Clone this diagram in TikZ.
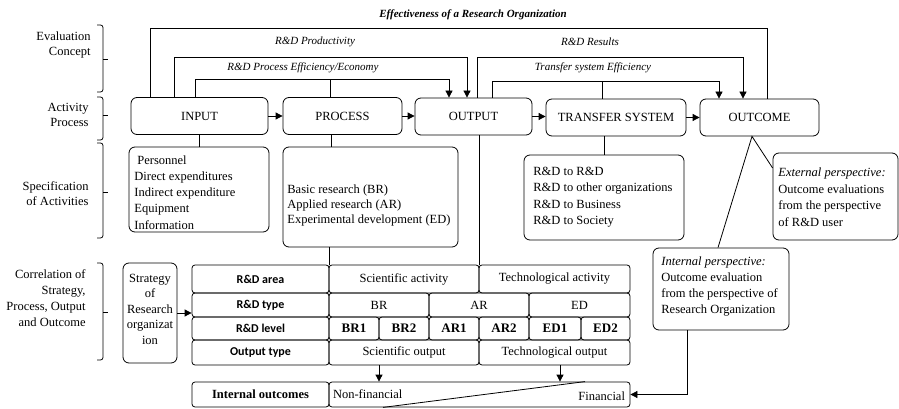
\documentclass[tikz,border=0pt]{standalone}
\usepackage{fontspec}
\setmainfont{Liberation Serif}
\newfontfamily\carl{Carlito}
\usetikzlibrary{arrows.meta}
\begin{document}
\begin{tikzpicture}[x=1pt,y=-1pt,
  font=\fontsize{12.5}{15}\selectfont,
  line width=0.8pt,
  box/.style={draw, rounded corners=6pt, inner sep=0pt},
  cell/.style={draw, rounded corners=3pt, inner sep=0pt},
  arr/.style={-{Triangle[length=7pt,width=7pt]}},
  lab/.style={font=\fontsize{11}{13}\selectfont\itshape, inner sep=0pt},
  side/.style={align=right, anchor=east, inner sep=0pt},
  txt/.style={anchor=west, align=left, inner sep=0pt},
  hd/.style={font=\carl\bfseries\fontsize{12}{14}\selectfont},
  bd/.style={font=\bfseries\fontsize{13}{15}\selectfont}
]
\useasboundingbox (0,0) rectangle (899,409);

% ---------- left labels and braces ----------
\node[side] (lc1) at (91,45) {Evaluation\\Concept};
\node[side] (lc2) at (89,114.5) {Activity\\Process};
\node[side] (lc3) at (89,194) {Specification\\of Activities};
\node[side, font=\fontsize{12.5}{15.8}\selectfont] (lc4) at (86,298) {Correlation of\\Strategy,\\Process, Output\\and Outcome};

\draw[rounded corners=2.5pt] (97,25) -- (103,25) -- (103,92) -- (97,92);
\draw (103,59) -- (108,59);
\draw[rounded corners=2.5pt] (97,97) -- (103,97) -- (103,140) -- (97,140);
\draw (103,115) -- (108,115);
\draw[rounded corners=2.5pt] (97,143) -- (103,143) -- (103,238) -- (97,238);
\draw (103,192) -- (108,192);
\draw[rounded corners=2.5pt] (97,263) -- (103,263) -- (103,360) -- (97,360);
\draw (103,312) -- (108,312);

% ---------- activity process row ----------
\node[box, minimum width=137, minimum height=37] (input) at (199.5,116) {INPUT};
\node[box, minimum width=119, minimum height=37] (process) at (342.5,116) {PROCESS};
\node[box, minimum width=117, minimum height=37] (output) at (473.5,116.5) {OUTPUT};
\node[box, minimum width=140, minimum height=37] (transfer) at (616,117.5) {TRANSFER SYSTEM};
\node[box, minimum width=119, minimum height=37] (outcome) at (759.5,117.5) {OUTCOME};

\draw[arr] (input.east) -- (process.west |- input.east);
\draw[arr] (process.east) -- (output.west |- process.east);
\draw[arr] (output.east) -- (transfer.west |- output.east);
\draw[arr] (transfer.east) -- (outcome.west |- transfer.east);

% ---------- evaluation concept lines ----------
\coordinate (e1) at (150,28); \coordinate (e2) at (767,28);
\draw (input.north -| e1) -- (e1) -- (e2) -- (outcome.north -| e2);
\coordinate (p1) at (174,57); \coordinate (p2) at (467,57);
\draw[arr] (input.north -| p1) -- (p1) -- (p2) -- (output.north -| p2);
\coordinate (q1) at (195,79); \coordinate (q2) at (449,79); \coordinate (q3) at (330,79);
\draw[arr] (input.north -| q1) -- (q1) -- (q2) -- (output.north -| q2);
\draw (process.north -| q3) -- (q3);
\coordinate (r1) at (477,57); \coordinate (r2) at (743,57);
\draw[arr] (output.north -| r1) -- (r1) -- (r2) -- (outcome.north -| r2);
\coordinate (t1) at (492,81); \coordinate (t2) at (719,81); \coordinate (t3) at (602,81);
\draw[arr] (output.north -| t1) -- (t1) -- (t2) -- (outcome.north -| t2);
\draw (transfer.north -| t3) -- (t3);

\node[lab] (l1) at (473,15) {\bfseries Effectiveness of a Research Organization};
\node[lab] (l2) at (315,42) {R\&D Productivity};
\node[lab] (l3) at (303,68) {R\&D Process Efficiency/Economy};
\node[lab] (l4) at (590,42) {R\&D Results};
\node[lab] (l5) at (593,68) {Transfer system Efficiency};

% ---------- specification boxes ----------
\node[box, minimum width=140, minimum height=85] (inspec) at (199,189.5) {};
\node[txt, font=\fontsize{12.5}{16.2}\selectfont] (inspect) at (134,192.5)
  {\hspace{3pt}Personnel\\Direct expenditures\\Indirect expenditure\\Equipment\\Information};
\node[box, minimum width=175, minimum height=100] (procspec) at (370.5,197) {};
\node[txt] (procspect) at (287,205)
  {Basic research (BR)\\Applied research (AR)\\Experimental development (ED)};
\node[box, minimum width=160, minimum height=85] (transpec) at (604,197.5) {};
\node[txt, font=\fontsize{12.5}{16.5}\selectfont] (transpect) at (533,197)
  {R\&D to R\&D\\R\&D to other organizations\\R\&D to Business\\R\&D to Society};
\node[box, minimum width=125, minimum height=87] (extbox) at (835.5,196.5) {};
\node[txt, font=\fontsize{12.5}{16.5}\selectfont] (extt) at (778,197)
  {\textit{External perspective:}\\Outcome evaluations\\from the perspective\\of R\&D user};
\node[box, minimum width=136, minimum height=82] (intbox) at (721,289) {};
\node[txt, font=\fontsize{12.5}{16}\selectfont] (intt) at (661,287)
  {\textit{Internal perspective:}\\Outcome evaluation\\from the perspective of\\Research Organization};

\draw (input.south) -- (input.south |- inspec.north);
\draw ([xshift=-11pt]process.south) -- ([xshift=-11pt]process.south |- procspec.north);
\draw (transpec.north) -- (transpec.north |- transfer.south);
\draw ([yshift=28.5pt]extbox.west) -- ([xshift=-7.5pt]outcome.south) -- ([xshift=-3pt]intbox.north);

% ---------- correlation table ----------
\node[box, minimum width=54, minimum height=100] (strategy) at (150,313) {};
\node[align=center, inner sep=0pt, font=\fontsize{12.5}{15.5}\selectfont] (stratt) at (150,309)
  {Strategy\\of\\Research\\organizat\\ion};

\node[cell, hd, minimum width=137, minimum height=28] (lab1) at (260.5,279) {R\&D area};
\node[cell, hd, minimum width=137, minimum height=24] (lab2) at (260.5,305) {R\&D type};
\node[cell, hd, minimum width=137, minimum height=23] (lab3) at (260.5,328.5) {R\&D level};
\node[cell, hd, minimum width=137, minimum height=25] (lab4) at (260.5,352.5) {Output type};
\node[cell, font=\bfseries\fontsize{12.5}{15}\selectfont, minimum width=137, minimum height=25] (lab5) at (260.5,394.5) {Internal outcomes};

\node[cell, minimum width=150, minimum height=28] (sciact) at (404,279) {Scientific activity};
\node[cell, minimum width=151, minimum height=28] (techact) at (554.5,279) {Technological activity};

\node[cell, minimum width=100, minimum height=24] (br) at (379,305) {BR};
\node[cell, minimum width=100, minimum height=24] (ar) at (479,305) {AR};
\node[cell, minimum width=101, minimum height=24] (ed) at (579.5,305) {ED};

\node[cell, bd, minimum width=50, minimum height=23] (br1) at (354,328.5) {BR1};
\node[cell, bd, minimum width=50, minimum height=23] (br2) at (404,328.5) {BR2};
\node[cell, bd, minimum width=50, minimum height=23] (ar1) at (454,328.5) {AR1};
\node[cell, bd, minimum width=50, minimum height=23] (ar2) at (504,328.5) {AR2};
\node[cell, bd, minimum width=52, minimum height=23] (ed1) at (555,328.5) {ED1};
\node[cell, bd, minimum width=49, minimum height=23] (ed2) at (605.5,328.5) {ED2};

\node[cell, minimum width=150, minimum height=25] (sciout) at (404,352.5) {Scientific output};
\node[cell, minimum width=151, minimum height=25] (techout) at (554.5,352.5) {Technological output};

\node[cell, minimum width=301, minimum height=25] (finbox) at (479.5,394.5) {};
\node[anchor=west, inner sep=0pt] (nonfin) at ([xshift=4pt]finbox.west) {Non-financial};
\node[anchor=east, inner sep=0pt] (fin) at ([xshift=-5pt,yshift=-1.5pt]finbox.east) {Financial};
\draw ([xshift=-96.5pt]finbox.south) -- ([xshift=105.5pt]finbox.north);

\draw (procspec.south -| lab1.east) -- (lab1.north east);
\draw (output.south -| sciact.east) -- (sciact.north east);
\draw[arr] (strategy.east) -- (strategy.east -| lab2.west);
\draw[arr] ([xshift=-25pt]sciout.south) -- ([xshift=-25pt]sciout.south |- finbox.north);
\draw[arr] ([xshift=5.5pt]techout.south) -- ([xshift=5.5pt]techout.south |- finbox.north);
\draw[arr] ([xshift=-34pt]intbox.south) |- (finbox.east);
\end{tikzpicture}
\end{document}
